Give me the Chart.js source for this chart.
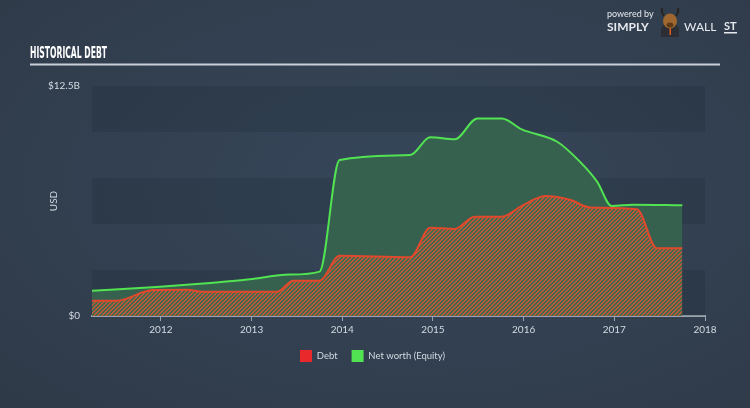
<!DOCTYPE html>
<html>
<head>
<meta charset="utf-8">
<script src="https://cdn.jsdelivr.net/npm/chart.js@4"></script>
<style>
  html, body { margin: 0; padding: 0; }
  body {
    width: 750px; height: 408px; overflow: hidden;
    background: radial-gradient(ellipse at 55% 45%, #36465a 0%, #323f4f 60%, #2f3a48 100%);
  }
  #wrap { position: relative; width: 750px; height: 408px; }
</style>
</head>
<body>
<div id="wrap"><canvas id="debtChart" width="750" height="408"></canvas></div>
<script>
// Values in billions USD, x as decimal years
const yearTicks = [2012, 2013, 2014, 2015, 2016, 2017, 2018];
const yTicks = [0, 12.5];
const yTickText = ['$0', '$12.5B'];

const debtDates  = [2011.24, 2011.51, 2011.91, 2012.29, 2012.46, 2013.28, 2013.46, 2013.75, 2013.97, 2014.75, 2014.97, 2015.24, 2015.46, 2015.76, 2015.98, 2016.24, 2016.52, 2016.73, 2017.25, 2017.47, 2017.75];
const debtValues = [0.83, 0.83, 1.41, 1.43, 1.32, 1.32, 1.92, 1.92, 3.28, 3.19, 4.80, 4.73, 5.40, 5.40, 5.98, 6.52, 6.30, 5.90, 5.80, 3.68, 3.68];

const equityDates  = [2011.24, 2011.99, 2012.43, 2012.98, 2013.42, 2013.75, 2013.97, 2014.75, 2014.97, 2015.24, 2015.49, 2015.76, 2015.98, 2016.37, 2016.62, 2016.81, 2016.97, 2017.21, 2017.75];
const equityValues = [1.37, 1.59, 1.75, 2.00, 2.25, 2.41, 8.48, 8.75, 9.71, 9.60, 10.74, 10.74, 10.14, 9.47, 8.39, 7.30, 5.98, 6.05, 6.02];

const seriesNames = ['Debt', 'Net worth (Equity)'];
const legendColors = ['#e8282b', '#52e352'];

const FONT = 'Lato, "Open Sans", sans-serif';
const textColor = '#d3dae2';

// hatched fill for the debt area
function makeHatch() {
    const c = document.createElement('canvas');
    c.width = 4; c.height = 4;
    const g = c.getContext('2d');
    g.fillStyle = '#3f6a4e';
    g.fillRect(0, 0, 4, 4);
    g.fillStyle = '#b9593a';
    for (let y = 0; y < 4; y++) {
        for (let x = 0; x < 4; x++) {
            if ((x + y) % 4 === 0 || (x + y) % 4 === 1) g.fillRect(x, y, 1, 1);
        }
    }
    return g.createPattern(c, 'repeat');
}

// darker horizontal bands behind the plot
const bandsPlugin = {
    id: 'bands',
    beforeDatasetsDraw(chart) {
        const { ctx, chartArea, scales } = chart;
        const y = scales.y;
        ctx.save();
        ctx.fillStyle = 'rgba(20, 28, 40, 0.16)';
        [[0, 2.5], [5, 7.5], [10, 12.5]].forEach(([a, b]) => {
            const top = y.getPixelForValue(b);
            const bot = y.getPixelForValue(a);
            ctx.fillRect(chartArea.left, top, chartArea.right - chartArea.left, bot - top);
        });
        ctx.restore();
    }
};

// header: title, rule and logo
const headerPlugin = {
    id: 'header',
    afterDraw(chart) {
        const ctx = chart.ctx;
        ctx.save();
        // title, squeezed to look condensed
        ctx.fillStyle = '#ffffff';
        ctx.font = 'bold 15px "DejaVu Sans Condensed", "Liberation Sans Narrow", sans-serif';
        ctx.textBaseline = 'alphabetic';
        const t = 'HISTORICAL DEBT';
        const w = ctx.measureText(t).width;
        ctx.translate(30, 58);
        ctx.scale(77 / w, 1);
        ctx.fillText(t, 0, 0);
        ctx.restore();

        ctx.save();
        ctx.strokeStyle = '#c9d0d8';
        ctx.lineWidth = 2;
        ctx.beginPath();
        ctx.moveTo(30, 64.5);
        ctx.lineTo(720, 64.5);
        ctx.stroke();

        // logo text
        ctx.fillStyle = '#e6e9ee';
        ctx.textBaseline = 'middle';
        ctx.font = '9px ' + FONT;
        ctx.fillText('powered by', 607, 14);
        ctx.font = 'bold 12px ' + FONT;
        ctx.fillText('SIMPLY', 607, 27);
        ctx.font = '12px ' + FONT;
        ctx.fillText('WALL', 684, 27);
        ctx.font = 'bold 11px ' + FONT;
        ctx.fillText('ST', 724, 26);
        ctx.fillRect(724, 32, 13, 1.5);

        // mascot: dark body, brown head, horns
        ctx.fillStyle = '#2b2f35';
        ctx.beginPath();
        ctx.arc(670, 31, 9, Math.PI, 0);
        ctx.lineTo(679, 37);
        ctx.lineTo(661, 37);
        ctx.closePath();
        ctx.fill();
        ctx.fillStyle = '#e05a1e';
        ctx.fillRect(669.5, 28, 1.5, 7);
        ctx.fillStyle = '#a0682e';
        ctx.beginPath();
        ctx.ellipse(670, 21, 7, 7.5, 0, 0, Math.PI * 2);
        ctx.fill();
        ctx.fillStyle = '#5b3a1a';
        ctx.beginPath();
        ctx.ellipse(670, 25, 3.5, 2.5, 0, 0, Math.PI * 2);
        ctx.fill();
        ctx.strokeStyle = '#2a2522';
        ctx.lineWidth = 2;
        ctx.beginPath();
        ctx.moveTo(664, 16); ctx.quadraticCurveTo(661, 12, 662, 8);
        ctx.moveTo(676, 16); ctx.quadraticCurveTo(679, 12, 678, 8);
        ctx.stroke();
        ctx.restore();
    }
};

const ctx = document.getElementById('debtChart').getContext('2d');
const hatch = makeHatch();

new Chart(ctx, {
    type: 'line',
    data: {
        datasets: [
            {
                label: seriesNames[0],
                data: debtDates.map((d, i) => ({ x: d, y: debtValues[i] })),
                borderColor: '#e0492c',
                backgroundColor: hatch,
                borderWidth: 2,
                fill: 'origin',
                pointRadius: 0,
                cubicInterpolationMode: 'monotone'
            },
            {
                label: seriesNames[1],
                data: equityDates.map((d, i) => ({ x: d, y: equityValues[i] })),
                borderColor: '#52e352',
                backgroundColor: '#36614f',
                borderWidth: 2,
                fill: 'origin',
                pointRadius: 0,
                cubicInterpolationMode: 'monotone'
            }
        ]
    },
    options: {
        responsive: false,
        animation: false,
        layout: { padding: { left: 40, top: 86, right: 45, bottom: 36 } },
        scales: {
            x: {
                type: 'linear',
                min: 2011.24,
                max: 2018,
                afterBuildTicks: (scale) => { scale.ticks = yearTicks.map(v => ({ value: v })); },
                afterFit: (scale) => { scale.height = 20; },
                grid: { drawOnChartArea: false, drawTicks: true, tickLength: 5, color: '#9aa4b0', lineWidth: 1 },
                border: { display: true, color: '#9aa4b0', width: 2 },
                ticks: {
                    color: textColor,
                    font: { family: FONT, size: 10 },
                    padding: 3,
                    maxRotation: 0,
                    callback: (v) => String(v)
                }
            },
            y: {
                min: 0,
                max: 12.5,
                afterBuildTicks: (scale) => { scale.ticks = yTicks.map(v => ({ value: v })); },
                afterFit: (scale) => { scale.width = 52; },
                grid: { display: false, drawTicks: false },
                border: { display: false },
                ticks: {
                    color: textColor,
                    font: { family: FONT, size: 10 },
                    padding: 12,
                    callback: (v) => yTickText[yTicks.indexOf(v)]
                },
                title: {
                    display: true,
                    text: 'USD',
                    color: textColor,
                    font: { family: FONT, size: 10 },
                    padding: { top: 8, bottom: 0 }
                }
            }
        },
        plugins: {
            legend: {
                position: 'bottom',
                labels: {
                    color: textColor,
                    font: { family: FONT, size: 9.5 },
                    boxWidth: 12,
                    boxHeight: 12,
                    padding: 14,
                    generateLabels: (chart) => chart.data.datasets.map((ds, i) => ({
                        text: ds.label,
                        fillStyle: legendColors[i],
                        strokeStyle: legendColors[i],
                        lineWidth: 0,
                        fontColor: textColor,
                        datasetIndex: i
                    }))
                }
            },
            tooltip: { enabled: false }
        }
    },
    plugins: [bandsPlugin, headerPlugin]
});
</script>
</body>
</html>
